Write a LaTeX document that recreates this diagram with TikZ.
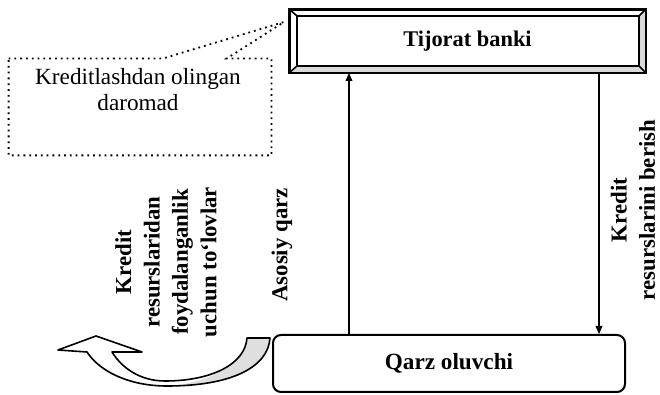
\documentclass[tikz,border=0pt]{standalone}
\usepackage{fontspec}
\setmainfont{Liberation Serif}
\usetikzlibrary{arrows.meta, positioning, calc}
\tikzset{
  bankbox/.style = {
    rectangle, draw, line width=1pt,
    minimum width=177.5pt, minimum height=31pt, inner sep=0pt,
    font=\fontsize{11.2}{13}\selectfont\bfseries
  },
  clientbox/.style = {
    rectangle, rounded corners=4pt, draw, line width=1pt,
    minimum width=176pt, minimum height=28.5pt, inner sep=0pt,
    font=\fontsize{11.6}{13}\selectfont\bfseries
  },
  notebox/.style = {
    rectangle, minimum width=131pt, minimum height=48pt, inner sep=0pt
  },
  notetxt/.style = {align=center, font=\fontsize{11.6}{13}\selectfont},
  sidetxt/.style = {
    rotate=90, align=center, inner sep=0pt,
    font=\fontsize{11.4}{14.2}\selectfont\bfseries
  },
  arr/.style  = {-{Triangle[length=4pt,width=3.4pt]}, line width=0.6pt},
  dots/.style = {dotted, line width=0.9pt},
}

\begin{document}
\begin{tikzpicture}[x=0.5pt, y=-0.5pt]
  \useasboundingbox (0,0) rectangle (660,395);

  % bank (bevelled frame)
  \node[bankbox] (bank) at (467.5,41) {};
  \coordinate (bnw) at ([shift={(8,7)}]bank.north west);
  \coordinate (bne) at ([shift={(-7,7)}]bank.north east);
  \coordinate (bse) at ([shift={(-7,-7)}]bank.south east);
  \coordinate (bsw) at ([shift={(8,-7)}]bank.south west);
  \fill[gray!30] (bank.south west) -- (bank.south east) -- (bse) -- (bsw) -- cycle;
  \fill[gray!30] (bank.north east) -- (bank.south east) -- (bse) -- (bne) -- cycle;
  \draw[line width=1pt] (bank.north west) rectangle (bank.south east);
  \draw[line width=0.8pt] (bnw) rectangle (bse);
  \draw[line width=0.8pt] (bank.north west) -- (bnw)
    (bank.north east) -- (bne) (bank.south east) -- (bse)
    (bank.south west) -- (bsw);
  \node[font=\fontsize{11.2}{13}\selectfont\bfseries] (banktxt)
    at (bank.center) {Tijorat banki};

  % borrower
  \node[clientbox] (client) at (449,363.5) {Qarz oluvchi};

  % callout
  \node[notebox] (note) at (140,107) {};
  \coordinate (tip) at ([shift={(-5,13)}]bank.north west);
  \draw[dots] (note.north west) -- ([xshift=77pt]note.north west) -- (tip)
    -- ([xshift=109pt]note.north west) -- (note.north east)
    -- (note.south east) -- (note.south west) -- cycle;
  \node[notetxt] (notetext) at (138,90) {Kreditlashdan olingan\\daromad};

  % flows
  \draw[arr] ([xshift=38.5pt]client.north west) -- ([xshift=38.5pt]client.north west |- bank.south);
  \draw[arr] ([xshift=-13.5pt]client.north east |- bank.south) -- ([xshift=-13.5pt]client.north east);

  \node[sidetxt] (main) at (282,245) {Asosiy qarz};
  \node[sidetxt] (give) at (633,210) {Kredit\\resurslarini berish};
  \node[sidetxt] (pay) at (166,262)
    {Kredit\\resurslaridan\\foydalanganlik\\uchun to‘lovlar};

  % curved hollow arrow
  \fill[white] (270,338) .. controls (268,368) and (230,386) .. (167,386)
    .. controls (130,386) and (100,372) .. (87,352) -- (58,350) -- (96,336)
    -- (142,352) -- (112,352) .. controls (122,368) and (140,381) .. (165,381)
    .. controls (210,381) and (245,365) .. (247,338) -- cycle;
  \fill[gray!25] (270,338) .. controls (268,368) and (230,386) .. (175,385.5)
    .. controls (215,380) and (245,362) .. (247,338) -- cycle;
  \draw[line width=0.8pt, line join=round] (270,338) .. controls (268,368) and (230,386) .. (167,386)
    .. controls (130,386) and (100,372) .. (87,352) -- (58,350) -- (96,336)
    -- (142,352) -- (112,352) .. controls (122,368) and (140,381) .. (165,381)
    .. controls (210,381) and (245,365) .. (247,338) -- cycle;
\end{tikzpicture}
\end{document}
